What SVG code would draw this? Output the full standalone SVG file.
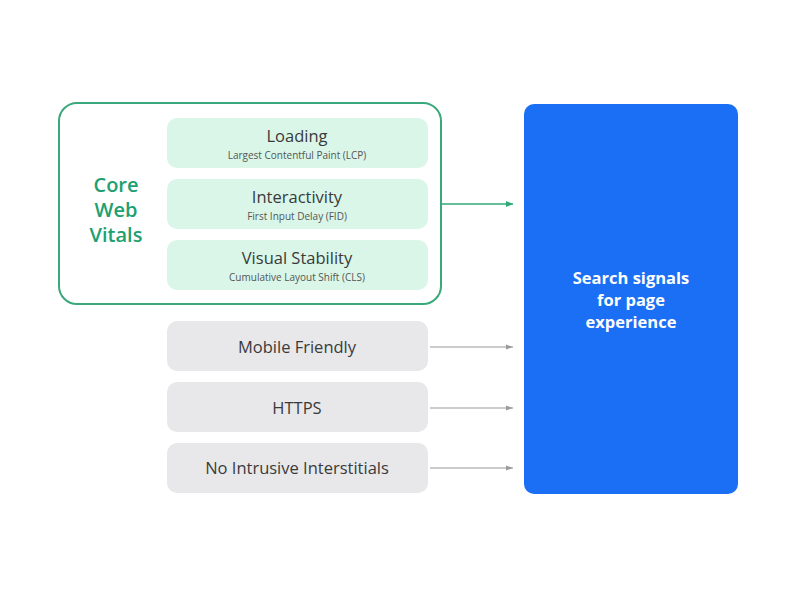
<svg xmlns="http://www.w3.org/2000/svg" width="800" height="600" viewBox="0 0 800 600">
<style>
.t{font-family:"Open Sans","Liberation Sans",sans-serif;text-anchor:middle}
.cw{fill:#20a070;font-size:20px;font-weight:600}
.h{fill:#3a3a3a;font-size:16.5px}
.s{fill:#555;font-size:10px}
.g{fill:#d9f6e8}
.gr{fill:#e8e8ea}
.w{fill:#fff;font-size:16.5px;font-weight:700}
</style>
<defs>
<marker id="ag" markerWidth="8" markerHeight="8" refX="7" refY="4" orient="auto" markerUnits="userSpaceOnUse"><path d="M0,1 L7,4 L0,7 z" fill="#2fa877"/></marker>
<marker id="ay" markerWidth="8" markerHeight="8" refX="7" refY="4" orient="auto" markerUnits="userSpaceOnUse"><path d="M0,1.5 L7,4 L0,6.5 z" fill="#9a9a9a"/></marker>
</defs>
<rect width="800" height="600" fill="#fff"/>
<g id="cwv">
<rect x="59" y="103" width="382" height="201" rx="18" fill="none" stroke="#3aa87b" stroke-width="2"/>
<text class="t cw" x="116" y="192">Core</text>
<text class="t cw" x="116" y="217">Web</text>
<text class="t cw" x="116" y="242">Vitals</text>
</g>
<g id="loading">
<rect class="g" x="167" y="118" width="261" height="50" rx="10"/>
<text class="t h" x="297" y="142">Loading</text>
<text class="t s" x="297" y="159">Largest Contentful Paint (LCP)</text>
</g>
<g id="interactivity">
<rect class="g" x="167" y="179" width="261" height="50" rx="10"/>
<text class="t h" x="297" y="203">Interactivity</text>
<text class="t s" x="297" y="220">First Input Delay (FID)</text>
</g>
<g id="visual">
<rect class="g" x="167" y="240" width="261" height="50" rx="10"/>
<text class="t h" x="297" y="264">Visual Stability</text>
<text class="t s" x="297" y="281">Cumulative Layout Shift (CLS)</text>
</g>
<g id="mobile">
<rect class="gr" x="167" y="321" width="261" height="50" rx="10"/>
<text class="t h" x="297" y="353">Mobile Friendly</text>
</g>
<g id="https">
<rect class="gr" x="167" y="382" width="261" height="50" rx="10"/>
<text class="t h" x="297" y="414">HTTPS</text>
</g>
<g id="interstitials">
<rect class="gr" x="167" y="443" width="261" height="50" rx="10"/>
<text class="t h" x="297" y="474">No Intrusive Interstitials</text>
</g>
<g id="signals">
<rect x="524" y="104" width="214" height="390" rx="10" fill="#1a6ff5"/>
<text class="t w" x="631" y="284">Search signals</text>
<text class="t w" x="631" y="306">for page</text>
<text class="t w" x="631" y="328">experience</text>
</g>
<g id="connectors">
<line x1="442" y1="204" x2="513" y2="204" stroke="#2fa877" stroke-width="1.5" marker-end="url(#ag)"/>
<line x1="430" y1="347" x2="513" y2="347" stroke="#9a9a9a" stroke-width="1.2" marker-end="url(#ay)"/>
<line x1="430" y1="408" x2="513" y2="408" stroke="#9a9a9a" stroke-width="1.2" marker-end="url(#ay)"/>
<line x1="430" y1="468" x2="513" y2="468" stroke="#9a9a9a" stroke-width="1.2" marker-end="url(#ay)"/>
</g>
</svg>
